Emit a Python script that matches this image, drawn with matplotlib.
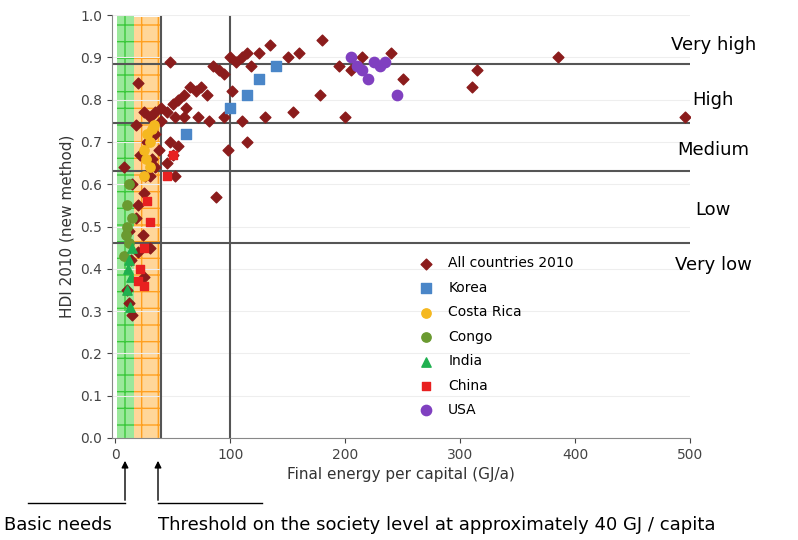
import matplotlib
matplotlib.use("Agg")
import matplotlib.pyplot as plt
from matplotlib.patches import Rectangle

# ---- data ----
all_x = [20, 25, 30, 35, 40, 45, 50, 52, 55, 60, 62, 65, 70, 75, 80, 85, 90, 95, 100, 105,
         110, 115, 118, 125, 135, 150, 160, 180, 195, 205, 215, 240, 250, 310, 315, 385, 495, 48,
         88, 98, 102, 110, 115, 130, 155, 178, 200, 95, 72, 82, 60, 48, 50, 52, 45, 55,
         10, 15, 12, 20, 25, 30, 20, 25, 30, 35, 22, 28, 35, 15, 18, 8, 12, 38, 40, 18, 32, 24, 14, 26]
all_y = [0.84, 0.77, 0.76, 0.77, 0.78, 0.77, 0.79, 0.76, 0.80, 0.81, 0.78, 0.83, 0.82, 0.83, 0.81,
         0.88, 0.87, 0.86, 0.90, 0.89, 0.90, 0.91, 0.88, 0.91, 0.93, 0.90, 0.91, 0.94, 0.88, 0.87,
         0.90, 0.91, 0.85, 0.83, 0.87, 0.90, 0.76, 0.89,
         0.57, 0.68, 0.82, 0.75, 0.70, 0.76, 0.77, 0.81, 0.76, 0.76, 0.76, 0.75, 0.76, 0.70, 0.67,
         0.62, 0.65, 0.69,
         0.35, 0.29, 0.32, 0.44, 0.38, 0.45, 0.55, 0.58, 0.62, 0.64, 0.67, 0.70, 0.72, 0.60, 0.52,
         0.64, 0.49, 0.68, 0.75, 0.74, 0.66, 0.48, 0.42, 0.62]
korea_x = [62, 100, 115, 125, 140]
korea_y = [0.72, 0.78, 0.81, 0.85, 0.88]
costa_x = [30, 28, 25, 27, 30, 32, 25, 34]
costa_y = [0.70, 0.72, 0.68, 0.66, 0.64, 0.73, 0.62, 0.74]
congo_x = [10, 12, 8, 15, 10, 12, 9]
congo_y = [0.50, 0.46, 0.43, 0.52, 0.55, 0.60, 0.48]
india_x = [12, 14, 10, 13, 15, 11]
india_y = [0.42, 0.38, 0.35, 0.31, 0.45, 0.40]
china_x = [50, 45, 28, 30, 25, 22, 20, 25]
china_y = [0.67, 0.62, 0.56, 0.51, 0.45, 0.40, 0.37, 0.36]
usa_x = [205, 215, 225, 230, 220, 245, 210, 235]
usa_y = [0.90, 0.87, 0.89, 0.88, 0.85, 0.81, 0.88, 0.89]

hdi_levels = [0.885, 0.745, 0.632, 0.46]
level_names = ["Very high", "High", "Medium", "Low", "Very low"]
level_text_y = [0.93, 0.80, 0.68, 0.54, 0.41]

fig = plt.figure(figsize=(7.98, 5.40), dpi=100)
ax = fig.add_axes([0.14, 0.189, 0.725, 0.783])

ax.add_patch(Rectangle((2, 0), 14, 1.0, facecolor="#9be89b", edgecolor="#3cc83c",
                       hatch="+", lw=0, zorder=0))
ax.add_patch(Rectangle((16, 0), 23, 0.995, facecolor="#ffd699", edgecolor="#ffa020",
                       hatch="+", lw=0, zorder=0))

for lv in hdi_levels:
    ax.axhline(lv, color="#555555", lw=1.5, zorder=1)
for xv in [40, 100]:
    ax.axvline(xv, color="#555555", lw=1.5, ymax=0.995, zorder=1)

ax.scatter(all_x, all_y, marker="D", s=30, color="#8b1c1c", label="All countries 2010", zorder=3)
ax.scatter(korea_x, korea_y, marker="s", s=55, color="#4a86c8", label="Korea", zorder=4)
ax.scatter(costa_x, costa_y, marker="o", s=45, color="#f5b820", label="Costa Rica", zorder=4)
ax.scatter(congo_x, congo_y, marker="o", s=45, color="#6a9a30", label="Congo", zorder=4)
ax.scatter(india_x, india_y, marker="^", s=45, color="#20b050", label="India", zorder=4)
ax.scatter(china_x, china_y, marker="s", s=40, color="#e82020", label="China", zorder=4)
ax.scatter(usa_x, usa_y, marker="o", s=55, color="#8040c0", label="USA", zorder=4)

ax.set_xlim(-3, 500)
ax.set_ylim(0, 1.0)
ax.set_xticks([0, 100, 200, 300, 400, 500])
ax.set_yticks([i / 10 for i in range(11)])
ax.set_yticklabels([f"{i / 10:.1f}" for i in range(11)])
ax.tick_params(labelsize=10, colors="#444444")
ax.grid(axis="y", color="#eeeeee", lw=0.8)
ax.set_axisbelow(True)
for s in ["top", "right"]:
    ax.spines[s].set_visible(False)
ax.spines["left"].set_color("#888888")
ax.spines["bottom"].set_color("#888888")
ax.set_xlabel("Final energy per capital (GJ/a)", fontsize=11, color="#333333")
ax.set_ylabel("HDI 2010 (new method)", fontsize=11, color="#333333")

ax.legend(loc="lower right", bbox_to_anchor=(0.82, 0.02), frameon=False, fontsize=10,
          handletextpad=0.6, labelspacing=0.75)

for name, ty in zip(level_names, level_text_y):
    ax.text(520, ty, name, fontsize=13, ha="center", va="center", clip_on=False)

# bottom annotations
fig.add_artist(plt.Line2D([28 / 798, 125 / 798], [1 - 503 / 540] * 2, color="black", lw=1))
fig.add_artist(plt.Line2D([158 / 798, 262 / 798], [1 - 503 / 540] * 2, color="black", lw=1))
for px in [125, 158]:
    ax.annotate("", xy=(px / 798, 1 - 458 / 540), xytext=(px / 798, 1 - 503 / 540),
                xycoords="figure fraction",
                arrowprops=dict(arrowstyle="-|>", color="black", lw=1, mutation_scale=10))
fig.text(4 / 798, 1 - 525 / 540, "Basic needs", fontsize=13, va="center")
fig.text(158 / 798, 1 - 525 / 540, "Threshold on the society level at approximately 40 GJ / capita",
         fontsize=13, va="center")

fig.savefig("out.png", dpi=100)
